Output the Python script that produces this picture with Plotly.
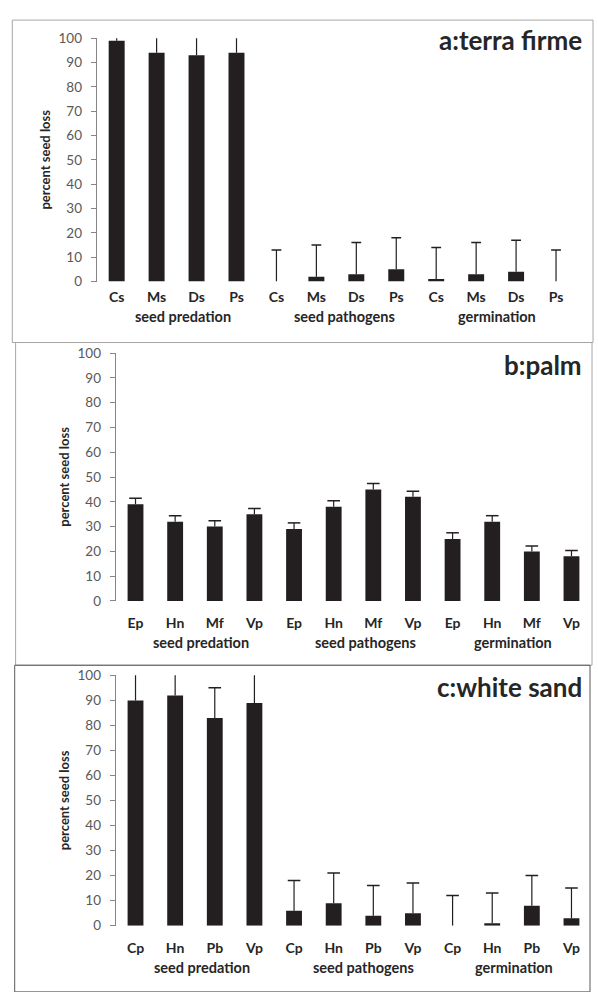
import plotly.graph_objects as go

# ---------------- data ----------------
groups = ["seed predation", "seed pathogens", "germination"]

a_species = ["Cs", "Ms", "Ds", "Ps"]
a_values = [99, 94, 93, 94, 0, 2, 3, 5, 1, 3, 4, 0]
a_errors = [3, 8, 8, 8, 13, 13, 13, 13, 13, 13, 13, 13]

b_species = ["Ep", "Hn", "Mf", "Vp"]
b_values = [39, 32, 30, 35, 29, 38, 45, 42, 25, 32, 20, 18]
b_errors = [2.4, 2.4, 2.4, 2.3, 2.5, 2.4, 2.4, 2.3, 2.5, 2.4, 2.2, 2.4]

c_species = ["Cp", "Hn", "Pb", "Vp"]
c_values = [90, 92, 83, 89, 6, 9, 4, 5, 0, 1, 8, 3]
c_errors = [12, 12, 12, 12, 12, 12, 12, 12, 12, 12, 12, 12]

titles = ["a:terra firme", "b:palm", "c:white sand"]
y_ticks = [0, 10, 20, 30, 40, 50, 60, 70, 80, 90, 100]
y_title = "percent seed loss"

# ---------------- layout geometry (pixels) ----------------
W, H = 598, 992
FONT = "Lato"
BAR = "#231f20"
AX = "#868686"

panels = [
    dict(species=a_species, values=a_values, errors=a_errors,
         x0=96.7, x1=576.0, y0=278.0, y1=30.7, cat_std=5, grp_shift=-35,
         title_y=33, cap=7, frame=(12.3, 12.3, 593, 340), fcol="#a6a6a6",
         glx=[1.67, 5.70, 9.52]),
    dict(species=b_species, values=b_values, errors=b_errors,
         x0=115.7, x1=591.3, y0=602.7, y1=350.7, cat_std=12, grp_shift=-42,
         title_y=363, cap=9, frame=(15.6, 340, 592, 668), fcol="#a6a6a6",
         glx=[1.66, 5.80, 9.53]),
    dict(species=c_species, values=c_values, errors=c_errors,
         x0=115.7, x1=591.3, y0=932.7, y1=678.3, cat_std=12, grp_shift=-42,
         title_y=690, cap=9, frame=(14.7, 668, 590, 1000), fcol="#595959",
         glx=[1.67, 5.74, 9.56]),
]

fig = go.Figure()
annotations = []
shapes = []
layout = {}

for k, p in enumerate(panels):
    sfx = "" if k == 0 else str(k + 1)
    xref, yref = "x" + sfx, "y" + sfx
    n = len(p["values"])
    xs = list(range(n))
    labels = p["species"] * len(groups)

    fig.add_trace(go.Bar(x=xs, y=p["values"], width=0.4, marker_color=BAR,
                         marker_line_width=0, xaxis=xref, yaxis=yref,
                         showlegend=False, hoverinfo="skip"))
    ex, ey = [], []
    for i, (v, e) in enumerate(zip(p["values"], p["errors"])):
        ex += [i, i, None]
        ey += [v, v + e, None]
    fig.add_trace(go.Scatter(x=ex, y=ey, mode="lines",
                             line=dict(color=BAR, width=1.2),
                             xaxis=xref, yaxis=yref, showlegend=False,
                             hoverinfo="skip"))
    fig.add_trace(go.Scatter(x=xs, y=[v + e for v, e in zip(p["values"], p["errors"])],
                             mode="markers",
                             marker=dict(symbol="line-ew", size=p["cap"],
                                         line=dict(color=BAR, width=1.5)),
                             cliponaxis=True,
                             xaxis=xref, yaxis=yref, showlegend=False,
                             hoverinfo="skip"))

    layout["xaxis" + sfx] = dict(
        domain=[p["x0"] / W, p["x1"] / W], range=[-0.5, n - 0.5],
        anchor=yref, tickvals=xs, ticktext=labels, ticks="",
        showline=False, showgrid=False, zeroline=False,
        tickfont=dict(family=FONT, size=14, color="#262626", weight="bold"),
        ticklabelstandoff=p["cat_std"], fixedrange=True)
    layout["yaxis" + sfx] = dict(
        domain=[1 - p["y0"] / H, 1 - p["y1"] / H], range=[0, 100],
        anchor=xref, tickvals=y_ticks, ticks="outside", ticklen=5,
        tickcolor=AX, showline=True, linecolor=AX, linewidth=1,
        showgrid=False, zeroline=False,
        tickfont=dict(family=FONT, size=13.5, color="#595959"),
        ticklabelstandoff=6, fixedrange=True)

    for g, gx in zip(groups, p["glx"]):
        annotations.append(dict(
            x=gx, y=0, xref=xref, yref=yref + " domain", yshift=p["grp_shift"],
            text=g, showarrow=False, xanchor="center", yanchor="middle",
            font=dict(family=FONT, size=14.5, color="#262626", weight="bold")))
    annotations.append(dict(
        x=0, y=0.5, xref=xref + " domain", yref=yref + " domain", xshift=-52,
        text=y_title, textangle=-90, showarrow=False,
        xanchor="center", yanchor="middle",
        font=dict(family=FONT, size=13, color="#262626", weight="bold")))
    annotations.append(dict(
        x=584 / W, y=1 - p["title_y"] / H, xref="paper", yref="paper",
        text=titles[k], showarrow=False, xanchor="right", yanchor="middle",
        font=dict(family=FONT, size=26, color="#262626", weight="bold")))
    fx0, fy0, fx1, fy1 = p["frame"]
    shapes.append(dict(type="rect", xref="paper", yref="paper",
                       x0=fx0 / W, x1=fx1 / W, y0=1 - fy1 / H, y1=1 - fy0 / H,
                       line=dict(color=p["fcol"], width=1), layer="below"))

fig.update_layout(width=W, height=H, margin=dict(l=0, r=0, t=0, b=0),
                  paper_bgcolor="white", plot_bgcolor="rgba(0,0,0,0)",
                  annotations=annotations, shapes=shapes, **layout)

fig.write_html("out.html",
               config={"displayModeBar": False, "staticPlot": True},
               post_script="document.body.style.margin='0';"
                           "document.body.style.padding='0';"
                           "document.documentElement.style.overflow='hidden';")
